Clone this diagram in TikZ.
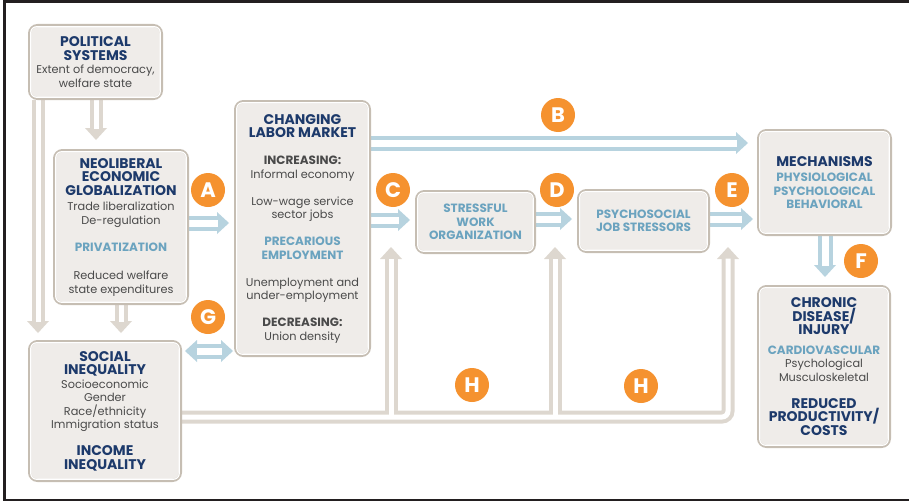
\documentclass[tikz,border=0pt]{standalone}
\usepackage{fontspec}
\setmainfont{Poppins}
\usetikzlibrary{arrows.meta}
\pgfdeclarelayer{pipes}
\pgfsetlayers{pipes,main}

\definecolor{navy}{HTML}{1D3A6B}
\definecolor{ltblue}{HTML}{6BA3BF}
\definecolor{bodygrey}{HTML}{4A4A4A}
\definecolor{boxline}{HTML}{C6BEB3}
\definecolor{boxfill}{HTML}{EFECE9}
\definecolor{conn}{HTML}{DDD7CF}
\definecolor{arrowblue}{HTML}{B7D3DF}
\definecolor{orng}{HTML}{F5922F}
\definecolor{frame}{HTML}{231F20}

% one command per line style (each line of an aligned node is its own group)
\newcommand\hl[1]{{\fontsize{14}{13.8}\selectfont\bfseries\color{navy}#1}}
\newcommand\bl[1]{{\fontsize{11.3}{13.5}\selectfont\mdseries\color{bodygrey}#1}}
\newcommand\ul[1]{{\fontsize{12}{13.5}\selectfont\bfseries\color{ltblue}#1}}
\newcommand\gl[1]{{\fontsize{12}{13.5}\selectfont\bfseries\color{bodygrey}#1}}

\begin{document}
\begin{tikzpicture}[x=1pt,y=-1pt,
  box/.style={draw=boxline, line width=3pt, fill=boxfill, rounded corners=8pt,
    inner sep=0pt, align=center, font=\fontsize{11.3}{13.5}\selectfont},
  badge/.style={circle, fill=orng, minimum size=34pt, inner sep=0pt, text=white,
    font=\fontsize{21}{21}\selectfont\bfseries},
  gout/.style={draw=conn, line width=13pt},
  gin/.style={draw=white, line width=5pt},
  bout/.style={draw=arrowblue, line width=15pt},
  bin/.style={draw=white, line width=7pt},
  gtip/.tip={Triangle[width=22pt,length=12pt,line width=0pt]},
  btip/.tip={Triangle[width=22pt,length=12pt,line width=0pt]},
]
\useasboundingbox (0,0) rectangle (909,503);

% outer frame, open on the right
\draw[frame, line width=2.2pt] (909,1.5) -- (4.5,1.5) -- (4.5,500) -- (909,500);

% ---------- boxes ----------
\node[box, minimum width=132pt, minimum height=73pt] (pol) at (95.5,62)
 {\hl{POLITICAL}\\ \hl{SYSTEMS}\\ \bl{Extent of democracy,}\\ \bl{welfare state}};

\node[box, minimum width=133pt, minimum height=153pt] (neo) at (121,227)
 {\hl{NEOLIBERAL}\\ \hl{ECONOMIC}\\ \hl{GLOBALIZATION}\\[2pt]
  \bl{Trade liberalization}\\ \bl{De-regulation}\\[13.5pt]
  \ul{PRIVATIZATION}\\[15pt]
  \bl{Reduced welfare}\\ \bl{state expenditures}};

\node[box, minimum width=151pt, minimum height=139pt] (soc) at (105,411)
 {\hl{SOCIAL}\\ \hl{INEQUALITY}\\
  \bl{Socioeconomic}\\ \bl{Gender}\\ \bl{Race/ethnicity}\\ \bl{Immigration status}\\[13.5pt]
  \hl{INCOME}\\ \hl{INEQUALITY}};

\node[box, minimum width=134pt, minimum height=254pt] (lab) at (302.5,228.5)
 {\hl{CHANGING}\\ \hl{LABOR MARKET}\\[13.5pt]
  \gl{INCREASING:}\\ \bl{Informal economy}\\[13.5pt]
  \bl{Low-wage service}\\ \bl{sector jobs}\\[13.5pt]
  \ul{PRECARIOUS}\\ \ul{EMPLOYMENT}\\[13.5pt]
  \bl{Unemployment and}\\ \bl{under-employment}\\[13.5pt]
  \gl{DECREASING:}\\ \bl{Union density}};

\node[box, minimum width=118pt, minimum height=61pt] (str) at (475.5,222)
 {\ul{STRESSFUL}\\ \ul{WORK}\\ \ul{ORGANIZATION}};

\node[box, minimum width=130pt, minimum height=61pt] (psy) at (643.5,221)
 {\ul{PSYCHOSOCIAL}\\ \ul{JOB STRESSORS}};

\node[box, minimum width=132pt, minimum height=104pt] (mec) at (824.5,182.5)
 {\hl{MECHANISMS}\\[2pt]
  \ul{PHYSIOLOGICAL}\\ \ul{PSYCHOLOGICAL}\\ \ul{BEHAVIORAL}};

\node[box, minimum width=131pt, minimum height=160pt] (chr) at (824,366.5)
 {\hl{CHRONIC}\\ \hl{DISEASE/}\\ \hl{INJURY}\\[6pt]
  \ul{CARDIOVASCULAR}\\ \bl{Psychological}\\ \bl{Musculoskeletal}\\[13.5pt]
  \hl{REDUCED}\\ \hl{PRODUCTIVITY/}\\ \hl{COSTS}};

% thin white inner rim of every box
\foreach \n in {pol,neo,soc,lab,str,psy,mec,chr}
  \draw[white, line width=1.2pt, rounded corners=6pt]
    ([xshift=2.7pt,yshift=-2.7pt]\n.north west) rectangle
    ([xshift=-2.7pt,yshift=2.7pt]\n.south east);

% ---------- connector ends ----------
\coordinate (pn) at (96,140);
\coordinate (ps) at (38,333);
\coordinate (ns) at (121,333);
\coordinate (aE) at (229,223);
\coordinate (bE) at (748,143);
\coordinate (cE) at (410,220);
\coordinate (dE) at (572,219);
\coordinate (eE) at (753,219);
\coordinate (fE) at (825,277);
\coordinate (gL) at (185,351);
\coordinate (gR) at (233,351);
\coordinate (h1) at (391,247);
\coordinate (h2) at (555,247);
\coordinate (h3) at (728,247);
\coordinate (hj) at (728,417);

\begin{pgfonlayer}{pipes}
  % grey hollow connectors: casing first, then the white core
  \draw[gout, -gtip] (pol.south -| pn) -- (pn);
  \draw[gout, -gtip] (pol.south -| ps) -- (ps);
  \draw[gout, -gtip] (neo.south -| ns) -- (ns);
  \draw[gout, rounded corners=6pt, -gtip] (soc.east |- hj) -- (hj) -- (h3);
  \draw[gout, -gtip] (h1 |- hj) -- (h1);
  \draw[gout, -gtip] (h2 |- hj) -- (h2);

  \draw[gin, shorten >=11.5pt] (pol.south -| pn) -- (pn);
  \draw[gin, shorten >=11.5pt] (pol.south -| ps) -- (ps);
  \draw[gin, shorten >=11.5pt] (neo.south -| ns) -- (ns);
  \draw[gin, rounded corners=6pt, shorten >=11.5pt] (soc.east |- hj) -- (hj) -- (h3);
  \draw[gin, shorten >=11.5pt] (h1 |- hj) -- (h1);
  \draw[gin, shorten >=11.5pt] (h2 |- hj) -- (h2);

  % blue hollow arrows
  \draw[bout, -btip] (neo.east |- aE) -- (aE);
  \draw[bin, shorten >=11.5pt] (neo.east |- aE) -- (aE);
  \draw[bout, -btip] (lab.east |- bE) -- (bE);
  \draw[bin, shorten >=11.5pt] (lab.east |- bE) -- (bE);
  \draw[bout, -btip] (lab.east |- cE) -- (cE);
  \draw[bin, shorten >=11.5pt] (lab.east |- cE) -- (cE);
  \draw[bout, -btip] (str.east |- dE) -- (dE);
  \draw[bin, shorten >=11.5pt] (str.east |- dE) -- (dE);
  \draw[bout, -btip] (psy.east |- eE) -- (eE);
  \draw[bin, shorten >=11.5pt] (psy.east |- eE) -- (eE);
  \draw[bout, -btip] (mec.south -| fE) -- (fE);
  \draw[bin, shorten >=11.5pt] (mec.south -| fE) -- (fE);
  \draw[bout, btip-btip] (gL) -- (gR);
  \draw[bin, shorten >=11.5pt, shorten <=11.5pt] (gL) -- (gR);
\end{pgfonlayer}

% ---------- letter badges ----------
\node[badge] (lA) at (208,190) {A};
\node[badge] (lB) at (558,115) {B};
\node[badge] (lC) at (393,190) {C};
\node[badge] (lD) at (557,190) {D};
\node[badge] (lE) at (732,190) {E};
\node[badge] (lF) at (861,261) {F};
\node[badge] (lG) at (208,317) {G};
\node[badge] (lH1) at (472,385) {H};
\node[badge] (lH2) at (641,386) {H};
\end{tikzpicture}
\end{document}
